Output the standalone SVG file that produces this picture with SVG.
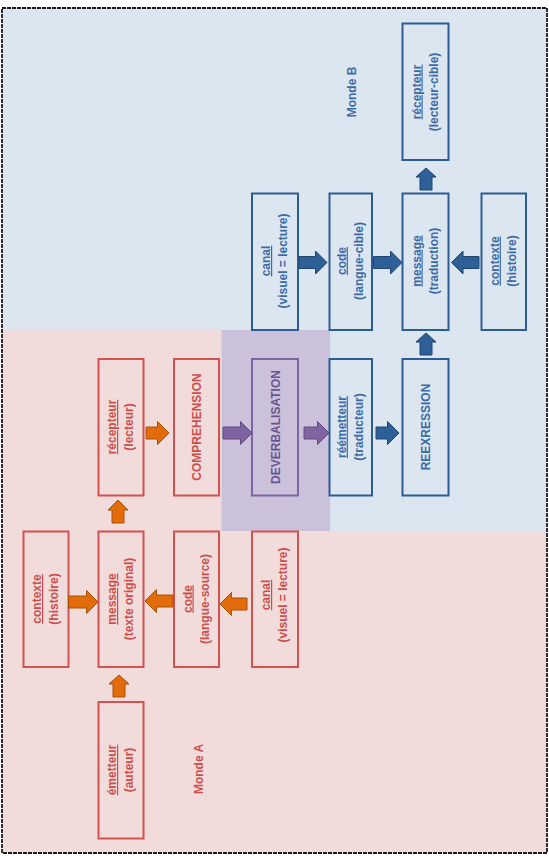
<svg xmlns="http://www.w3.org/2000/svg" width="549" height="857" viewBox="0 0 549 857">
<style>
text{font-family:"Liberation Sans",Arial,sans-serif;font-size:12px;font-weight:bold;text-anchor:middle}
.bb{fill:none;stroke:#2c5c94;stroke-width:2}
.pb{fill:none;stroke:#d2524f;stroke-width:2}
.vb{fill:none;stroke:#8064a2;stroke-width:2}
.bt{fill:#3d6ba4}
.pt{fill:#cc4f4c}
.vt{fill:#6a5590}
.ab{fill:#2f5f97;stroke:#1f4570;stroke-width:1}
.ao{fill:#e36c0a;stroke:#a84f08;stroke-width:1}
.ap{fill:#8064a2;stroke:#5f4a80;stroke-width:1}
</style>
<rect x="0" y="0" width="549" height="857" fill="#ffffff"/>
<g id="backgrounds">
<rect x="2" y="8" width="545" height="523" fill="#dce6f1"/>
<rect x="2" y="330" width="219.5" height="201" fill="#f2dcdb"/>
<rect x="2" y="531" width="545" height="322" fill="#f2dcdb"/>
<rect x="221.5" y="330" width="108.5" height="201" fill="#ccc1da"/>
<rect x="2" y="8" width="545" height="845" fill="none" stroke="#1a1a1a" stroke-width="1.8" stroke-dasharray="4 1"/>
</g>
<g id="monde-b"><text class="bt" transform="translate(351.5,92) rotate(-90)" y="4.5">Monde B</text></g>
<g id="monde-a"><text class="pt" transform="translate(198.5,769) rotate(-90)" y="4.5">Monde A</text></g>
<g id="recepteur-b">
<rect class="bb" x="402.5" y="23.5" width="46" height="136.5"/>
<text class="bt" transform="translate(425.5,92) rotate(-90)"><tspan x="0" y="-5" text-decoration="underline">récepteur</tspan><tspan x="0" y="12">(lecteur-cible)</tspan></text>
</g>
<g id="canal-b">
<rect class="bb" x="252" y="193.5" width="46" height="136.5"/>
<text class="bt" transform="translate(275,261) rotate(-90)"><tspan x="0" y="-5" text-decoration="underline">canal</tspan><tspan x="0" y="12">(visuel = lecture)</tspan></text>
</g>
<g id="code-b">
<rect class="bb" x="329.5" y="193.5" width="42.5" height="136.5"/>
<text class="bt" transform="translate(350.7,261) rotate(-90)"><tspan x="0" y="-5" text-decoration="underline">code</tspan><tspan x="0" y="12">(langue-cible)</tspan></text>
</g>
<g id="message-b">
<rect class="bb" x="402.5" y="193.5" width="46" height="136.5"/>
<text class="bt" transform="translate(425.5,261) rotate(-90)"><tspan x="0" y="-5" text-decoration="underline">message</tspan><tspan x="0" y="12">(traduction)</tspan></text>
</g>
<g id="contexte-b">
<rect class="bb" x="481.5" y="193.5" width="44.5" height="136.5"/>
<text class="bt" transform="translate(503.7,261) rotate(-90)"><tspan x="0" y="-5" text-decoration="underline">contexte</tspan><tspan x="0" y="12">(histoire)</tspan></text>
</g>
<g id="reemetteur">
<rect class="bb" x="329.5" y="359" width="42.5" height="136.5"/>
<text class="bt" transform="translate(350.7,427) rotate(-90)"><tspan x="0" y="-5" text-decoration="underline">réémetteur</tspan><tspan x="0" y="12">(traducteur)</tspan></text>
</g>
<g id="reexression">
<rect class="bb" x="402.5" y="359" width="46" height="136.5"/>
<text class="bt" transform="translate(425.5,427) rotate(-90)" y="4.5">REEXRESSION</text>
</g>
<g id="deverbalisation">
<rect class="vb" x="252" y="359" width="46" height="136.5" fill="#c9bdd8"/>
<text class="vt" transform="translate(275,427) rotate(-90)" y="4.5">DEVERBALISATION</text>
</g>
<g id="comprehension">
<rect class="pb" x="174" y="359" width="45" height="136.5"/>
<text class="pt" transform="translate(196.5,427) rotate(-90)" y="4.5">COMPREHENSION</text>
</g>
<g id="recepteur-a">
<rect class="pb" x="98.5" y="359" width="45" height="136.5"/>
<text class="pt" transform="translate(121,427) rotate(-90)"><tspan x="0" y="-5" text-decoration="underline">récepteur</tspan><tspan x="0" y="12">(lecteur)</tspan></text>
</g>
<g id="contexte-a">
<rect class="pb" x="23.5" y="531.5" width="45" height="135.5"/>
<text class="pt" transform="translate(46,599) rotate(-90)"><tspan x="0" y="-5" text-decoration="underline">contexte</tspan><tspan x="0" y="12">(histoire)</tspan></text>
</g>
<g id="message-a">
<rect class="pb" x="98.5" y="531.5" width="45" height="135.5"/>
<text class="pt" transform="translate(121,599) rotate(-90)"><tspan x="0" y="-5" text-decoration="underline">message</tspan><tspan x="0" y="12">(texte original)</tspan></text>
</g>
<g id="code-a">
<rect class="pb" x="174" y="531.5" width="45" height="135.5"/>
<text class="pt" transform="translate(196.5,599) rotate(-90)"><tspan x="0" y="-5" text-decoration="underline">code</tspan><tspan x="0" y="12">(langue-source)</tspan></text>
</g>
<g id="canal-a">
<rect class="pb" x="252" y="531.5" width="46" height="135.5"/>
<text class="pt" transform="translate(275,595) rotate(-90)"><tspan x="0" y="-5" text-decoration="underline">canal</tspan><tspan x="0" y="12">(visuel = lecture)</tspan></text>
</g>
<g id="emetteur">
<rect class="pb" x="98.5" y="702" width="45" height="136.5"/>
<text class="pt" transform="translate(121,770) rotate(-90)"><tspan x="0" y="-5" text-decoration="underline">émetteur</tspan><tspan x="0" y="12">(auteur)</tspan></text>
</g>
<g id="connectors">
<polygon class="ab" points="299,256.5 315.5,256.5 315.5,251 327,262.5 315.5,274 315.5,268.5 299,268.5"/>
<polygon class="ab" points="373.5,256.5 390.5,256.5 390.5,251 402,262.5 390.5,274 390.5,268.5 373.5,268.5"/>
<polygon class="ab" points="479,256.5 463,256.5 463,251 451.5,262.5 463,274 463,268.5 479,268.5"/>
<polygon class="ab" points="420,190 420,177 416,177 426,168 436,177 432,177 432,190"/>
<polygon class="ab" points="376,427 387.5,427 387.5,421.5 399,433 387.5,444.5 387.5,439 376,439"/>
<polygon class="ab" points="420,355 420,342 416,342 426,333 436,342 432,342 432,355"/>
<polygon class="ap" points="223,427 240.5,427 240.5,421.5 252,433 240.5,444.5 240.5,439 223,439"/>
<polygon class="ap" points="304,427 317.5,427 317.5,421.5 329,433 317.5,444.5 317.5,439 304,439"/>
<polygon class="ao" points="146,427 157.5,427 157.5,421.5 169,433 157.5,444.5 157.5,439 146,439"/>
<polygon class="ao" points="112,523 112,510 108,510 118,500 128,510 124,510 124,523"/>
<polygon class="ao" points="68.5,596 86.5,596 86.5,590.5 98,602 86.5,613.5 86.5,608 68.5,608"/>
<polygon class="ao" points="173,595 156.5,595 156.5,589.5 145,601 156.5,612.5 156.5,607 173,607"/>
<polygon class="ao" points="247,598 231.5,598 231.5,592.5 220,604 231.5,615.5 231.5,610 247,610"/>
<polygon class="ao" points="113,697 113,684 109,684 119,675 129,684 125,684 125,697"/>
</g>
</svg>
